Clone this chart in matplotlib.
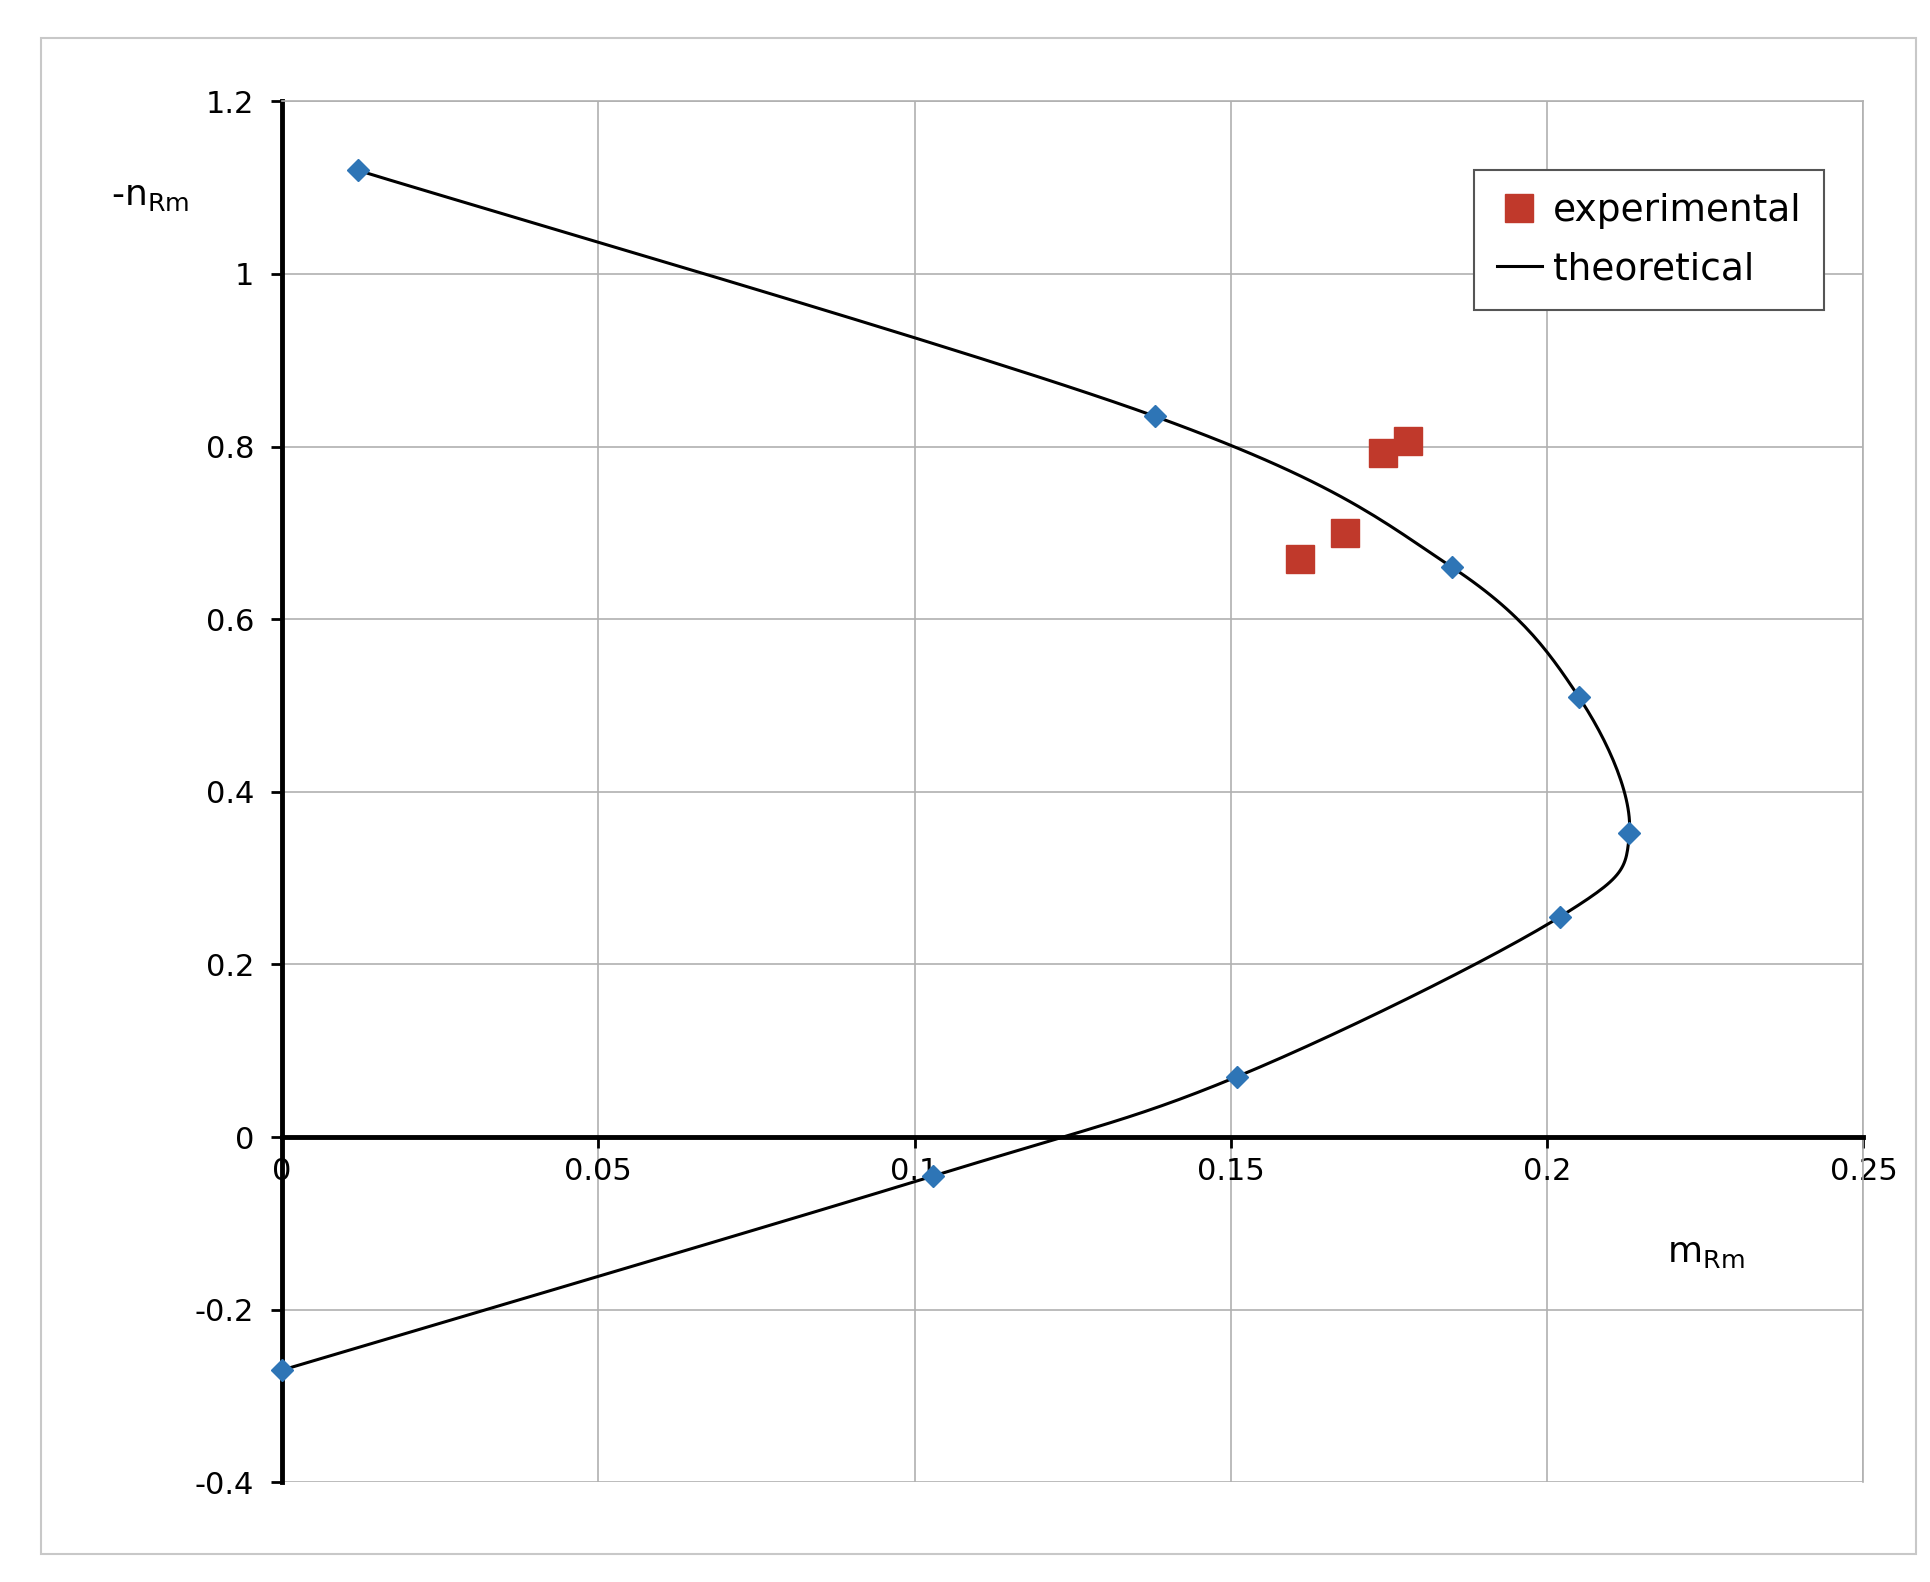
import numpy as np
import matplotlib.pyplot as plt
from matplotlib.patches import Rectangle

# theoretical curve points (blue diamonds)
theo_m = [0.012, 0.138, 0.185, 0.205, 0.213, 0.202, 0.151, 0.103, 0.0]
theo_n = [1.12, 0.835, 0.66, 0.51, 0.352, 0.255, 0.07, -0.045, -0.27]
# experimental points
exp_m = [0.161, 0.168, 0.174, 0.178]
exp_n = [0.67, 0.70, 0.793, 0.806]

x_ticks = [0, 0.05, 0.1, 0.15, 0.2, 0.25]
x_labels = ["0", "0.05", "0.1", "0.15", "0.2", "0.25"]
y_ticks = [-0.4, -0.2, 0, 0.2, 0.4, 0.6, 0.8, 1, 1.2]
y_labels = ["-0.4", "-0.2", "0", "0.2", "0.4", "0.6", "0.8", "1", "1.2"]


def catmull_rom(xs, ys, n=30):
    # smooth line through the points, drawn like a spreadsheet smoothed line
    p = np.column_stack([xs, ys])
    p = np.vstack([p[0], p, p[-1]])
    out = []
    for i in range(1, len(p) - 2):
        p0, p1, p2, p3 = p[i - 1], p[i], p[i + 1], p[i + 2]
        t = np.linspace(0, 1, n)[:, None]
        seg = 0.5 * ((2 * p1) + (-p0 + p2) * t + (2 * p0 - 5 * p1 + 4 * p2 - p3) * t**2
                     + (-p0 + 3 * p1 - 3 * p2 + p3) * t**3)
        out.append(seg)
    out = np.vstack(out)
    return out[:, 0], out[:, 1]


fig = plt.figure(figsize=(19.31, 15.82), dpi=100)
fig.patches.append(Rectangle((0.021, 0.018), 0.971, 0.958, transform=fig.transFigure,
                             fill=False, edgecolor='#c8c8c8', linewidth=1.5))
ax = fig.add_axes([0.146, 0.063, 0.819, 0.873])
ax.set_xlim(0, 0.25)
ax.set_ylim(-0.4, 1.2)

ax.grid(True, color='#b0b0b0', linewidth=1.2)
ax.set_axisbelow(True)
for s in ['top', 'right']:
    ax.spines[s].set_color('#b0b0b0')
    ax.spines[s].set_linewidth(1.2)
ax.spines['left'].set_linewidth(3.5)
ax.spines['bottom'].set_position(('data', 0))
ax.spines['bottom'].set_linewidth(3.5)

ax.set_xticks(x_ticks)
ax.set_xticklabels(x_labels)
ax.set_yticks(y_ticks)
ax.set_yticklabels(y_labels)
ax.tick_params(axis='both', labelsize=22, length=8, width=2, direction='out')
ax.tick_params(axis='x', pad=6)
ax.tick_params(axis='y', pad=12)

cx, cy = catmull_rom(theo_m, theo_n)
ax.plot(cx, cy, color='black', linewidth=2.2, label='theoretical', zorder=3)
ax.plot(theo_m, theo_n, linestyle='none', marker='D', markersize=11,
        color='#2e75b6', zorder=4, clip_on=False)
ax.plot(exp_m, exp_n, linestyle='none', marker='s', markersize=20,
        color='#c0392b', label='experimental', zorder=4)

ax.text(-0.027, 1.08, r'-n$_{\mathregular{Rm}}$', fontsize=26)
ax.text(0.219, -0.145, r'm$_{\mathregular{Rm}}$', fontsize=26)

handles, labels = ax.get_legend_handles_labels()
leg = ax.legend(handles[::-1], labels[::-1], loc='upper right', bbox_to_anchor=(0.975, 0.95),
                fontsize=27, fancybox=False, edgecolor='#555555', framealpha=1,
                handlelength=1.2, handletextpad=0.3, borderpad=0.6, labelspacing=0.6,
                borderaxespad=0)
leg.get_frame().set_linewidth(1.5)

plt.savefig('out.png', dpi=100)
